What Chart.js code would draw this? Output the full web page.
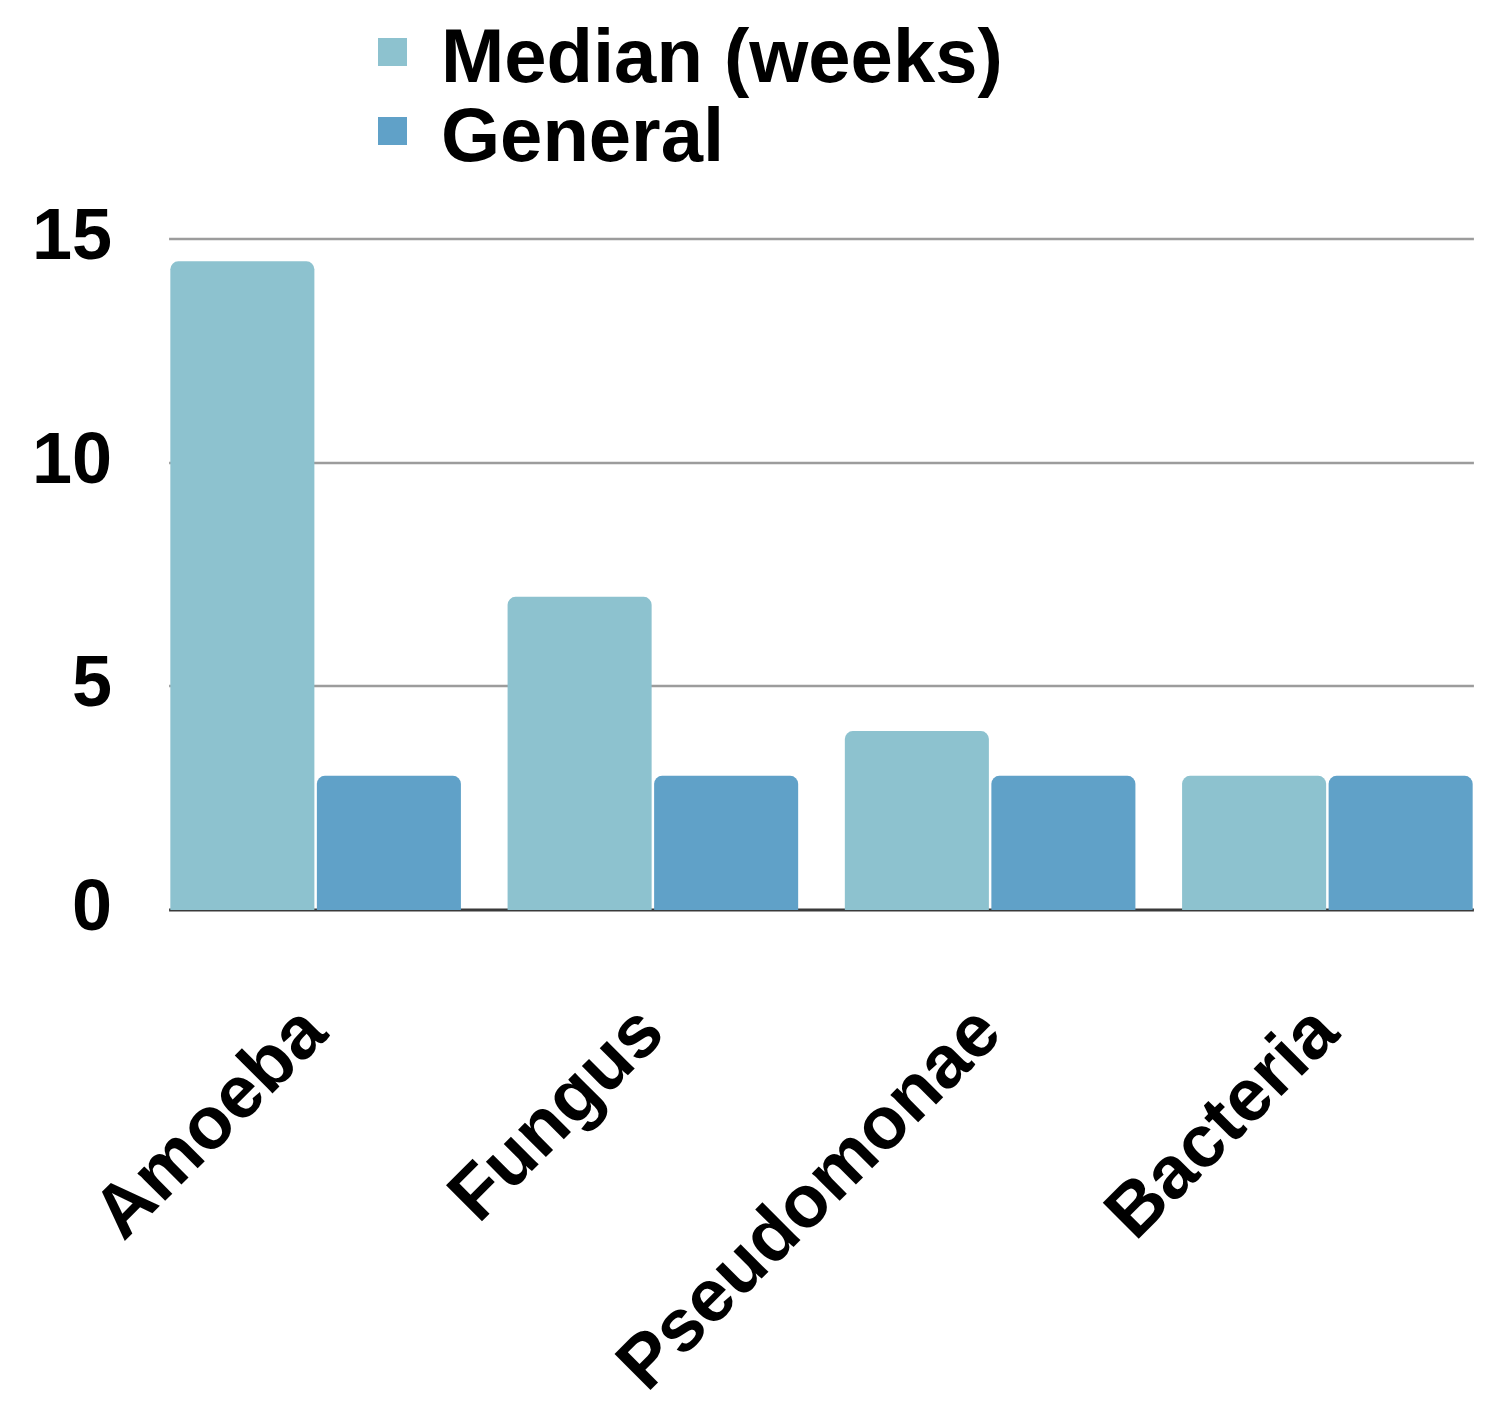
<!DOCTYPE html>
<html>
<head>
<meta charset="utf-8">
<script src="https://cdn.jsdelivr.net/npm/chart.js@4.4.1/dist/chart.umd.min.js"></script>
<style>
  html, body { margin: 0; padding: 0; background: #fff; }
  #wrap { width: 1508px; height: 1420px; position: relative; }
</style>
</head>
<body>
<div id="wrap"><canvas id="barChart"></canvas></div>
<script>
// values
var categories = ['Amoeba', 'Fungus', 'Pseudomonae', 'Bacteria'];
var medianWeeks = [14.5, 7, 4, 3];
var generalWeeks = [3, 3, 3, 3];
var seriesNames = ['Median (weeks)', 'General'];
var seriesColors = ['#8dc2cf', '#60a1c8'];
var yTicks = [0, 5, 10, 15];

var catPct = 0.869;
var fontName = '"Liberation Sans", Arial, sans-serif';

// grid lines stop where the bar groups stop, zero line is darker
var gridPlugin = {
    id: 'shortGrid',
    beforeDatasetsDraw: function (chart) {
        var ctx = chart.ctx;
        var area = chart.chartArea;
        var y = chart.scales.y;
        var inset = (area.right - area.left) / categories.length * (1 - catPct) / 2;
        ctx.save();
        yTicks.forEach(function (v) {
            var py = Math.round(y.getPixelForValue(v));
            ctx.beginPath();
            ctx.lineWidth = v === 0 ? 3 : 2.5;
            ctx.strokeStyle = v === 0 ? '#3a3a3a' : '#9c9c9c';
            ctx.moveTo(area.left + inset, py);
            ctx.lineTo(area.right - inset, py);
            ctx.stroke();
        });
        ctx.restore();
    }
};

// stacked legend in the top area
var legendPlugin = {
    id: 'stackLegend',
    afterDraw: function (chart) {
        var ctx = chart.ctx;
        ctx.save();
        ctx.font = 'bold 76px ' + fontName;
        ctx.textBaseline = 'alphabetic';
        ctx.textAlign = 'left';
        chart.data.datasets.forEach(function (ds, i) {
            var base = 82 + i * 79;
            ctx.fillStyle = ds.backgroundColor;
            ctx.fillRect(378, base - 44, 29, 28);
            ctx.fillStyle = '#000';
            ctx.fillText(ds.label, 441, base);
        });
        ctx.restore();
    }
};

var ctx = document.getElementById('barChart').getContext('2d');
var barChart = new Chart(ctx, {
    type: 'bar',
    data: {
        labels: categories,
        datasets: [{
            label: seriesNames[0],
            data: medianWeeks,
            backgroundColor: seriesColors[0],
            borderRadius: 8,
            barPercentage: 0.983,
            categoryPercentage: catPct
        }, {
            label: seriesNames[1],
            data: generalWeeks,
            backgroundColor: seriesColors[1],
            borderRadius: 8,
            barPercentage: 0.983,
            categoryPercentage: catPct
        }]
    },
    options: {
        responsive: true,
        maintainAspectRatio: false,
        animation: false,
        layout: {
            padding: { top: 239, right: 12, left: 0, bottom: 0 }
        },
        plugins: {
            legend: { display: false },
            tooltip: { enabled: false }
        },
        scales: {
            x: {
                grid: { display: false, drawTicks: false },
                border: { display: false },
                ticks: {
                    color: '#000',
                    font: { family: fontName, size: 74, weight: 'bold' },
                    minRotation: 45,
                    maxRotation: 45,
                    autoSkip: false,
                    padding: 80
                },
                afterFit: function (scale) { scale.height = 510; }
            },
            y: {
                min: 0,
                max: 15,
                grid: { display: false, drawTicks: false },
                border: { display: false },
                ticks: {
                    stepSize: 5,
                    color: '#000',
                    font: { family: fontName, size: 72, weight: 'bold' },
                    padding: 35
                },
                afterFit: function (scale) { scale.width = 147; }
            }
        }
    },
    plugins: [gridPlugin, legendPlugin]
});
</script>
</body>
</html>
